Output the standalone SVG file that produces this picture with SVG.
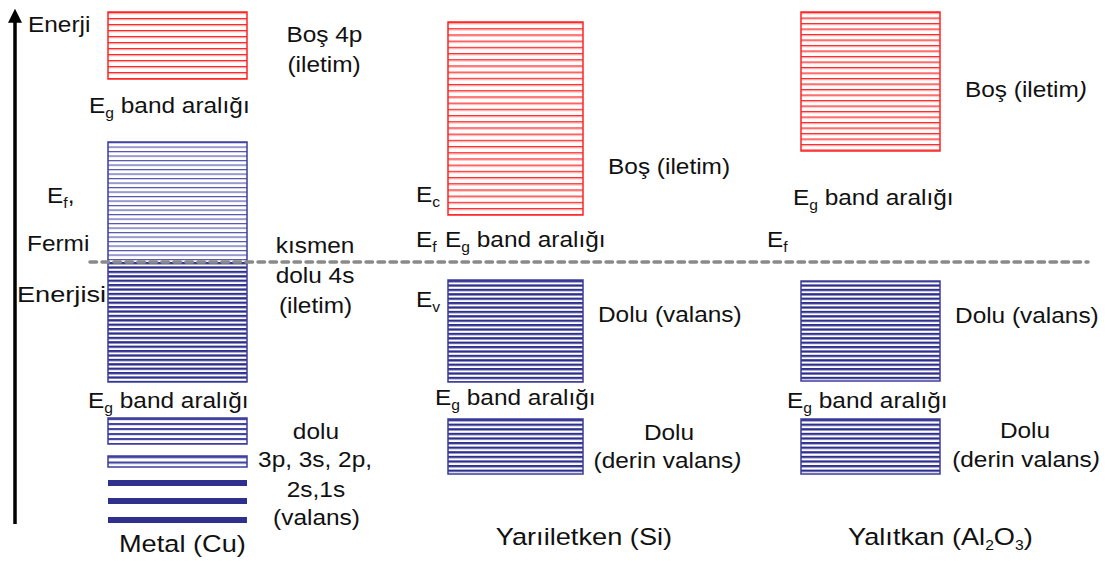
<svg xmlns="http://www.w3.org/2000/svg" width="1113" height="561" viewBox="0 0 1113 561">
  <defs>
    <style>
      .lbl { font-family: "Liberation Sans", Arial, sans-serif; font-size: 21.8px; fill: #111; }
      .big { font-size: 24.3px; }
      .mid { text-anchor: middle; }
      .sub { font-size: 14px; }
      .redBox { stroke: #ff2424; stroke-width: 1.5; }
      .blueBox { stroke: #3c3c9c; stroke-width: 1.5; }
      .bar { fill: #2f2f8e; }
    </style>
    <!-- stripe fills for the energy bands -->
    <pattern id="redStripe6" width="20" height="6" patternUnits="userSpaceOnUse" patternTransform="translate(0 12)">
      <rect width="20" height="6" fill="#fff"/>
      <rect width="20" height="1.3" fill="#ff2a2a"/>
      <rect y="1.3" width="20" height="0.9" fill="#ff9a9a"/>
    </pattern>
    <pattern id="redStripeSi" width="20" height="6.2" patternUnits="userSpaceOnUse" patternTransform="translate(0 22)">
      <rect width="20" height="6.2" fill="#fff"/>
      <rect width="20" height="1.3" fill="#ff2a2a"/>
      <rect y="1.3" width="20" height="0.9" fill="#ff9a9a"/>
    </pattern>
    <pattern id="redStripeAl" width="20" height="5.5" patternUnits="userSpaceOnUse" patternTransform="translate(0 12)">
      <rect width="20" height="5.5" fill="#fff"/>
      <rect width="20" height="1.3" fill="#ff2a2a"/>
      <rect y="1.3" width="20" height="0.8" fill="#ff9a9a"/>
    </pattern>
    <pattern id="blueThin" width="20" height="4.5" patternUnits="userSpaceOnUse" patternTransform="translate(0 142)">
      <rect width="20" height="4.5" fill="#fff"/>
      <rect width="20" height="1.2" fill="#5454ae"/>
    </pattern>
    <pattern id="blueThick" width="20" height="4.4" patternUnits="userSpaceOnUse" patternTransform="translate(0 262)">
      <rect width="20" height="4.4" fill="#fff"/>
      <rect width="20" height="2.3" fill="#2f2f8e"/>
    </pattern>
    <pattern id="blueThickSi" width="20" height="4.4" patternUnits="userSpaceOnUse" patternTransform="translate(0 280)">
      <rect width="20" height="4.4" fill="#fff"/>
      <rect width="20" height="2.3" fill="#2f2f8e"/>
    </pattern>
    <pattern id="blueDeep" width="20" height="4.6" patternUnits="userSpaceOnUse" patternTransform="translate(0 419)">
      <rect width="20" height="4.6" fill="#fff"/>
      <rect width="20" height="2.3" fill="#2f2f8e"/>
    </pattern>
    <pattern id="blueCore" width="20" height="5" patternUnits="userSpaceOnUse" patternTransform="translate(0 418)">
      <rect width="20" height="5" fill="#fff"/>
      <rect width="20" height="2.2" fill="#4646a4"/>
    </pattern>
    <pattern id="blueCore2" width="20" height="5.5" patternUnits="userSpaceOnUse" patternTransform="translate(0 456)">
      <rect width="20" height="5.5" fill="#fff"/>
      <rect width="20" height="2.2" fill="#4646a4"/>
    </pattern>
    <marker id="arrowHead" viewBox="0 0 10 10" refX="2" refY="5" markerWidth="4" markerHeight="4.2" orient="auto" markerUnits="strokeWidth">
      <path d="M0,0 L10,5 L0,10 Z" fill="#000"/>
    </marker>
  </defs>

  <rect width="1113" height="561" fill="#fff"/>

  <!-- Metal (Cu) bands -->
  <g id="metal-4p">
    <rect class="redBox" x="108" y="12" width="139" height="67" fill="url(#redStripe6)"/>
  </g>
  <g id="metal-4s">
    <rect x="108" y="142" width="139" height="120" fill="url(#blueThin)"/>
    <rect x="108" y="262" width="139" height="120" fill="url(#blueThick)"/>
    <rect class="blueBox" x="108" y="142" width="139" height="240" fill="none"/>
  </g>
  <g id="metal-core">
    <rect class="blueBox" x="108" y="418" width="139" height="26" fill="url(#blueCore)"/>
    <rect class="blueBox" x="108" y="456" width="139" height="11" fill="url(#blueCore2)"/>
    <rect class="bar" x="108" y="480" width="139" height="6"/>
    <rect class="bar" x="108" y="498" width="139" height="6"/>
    <rect class="bar" x="108" y="517" width="139" height="6"/>
  </g>

  <!-- Semiconductor (Si) bands -->
  <g id="si-conduction">
    <rect class="redBox" x="448" y="22" width="135" height="193" fill="url(#redStripeSi)"/>
  </g>
  <g id="si-valence">
    <rect class="blueBox" x="448" y="280" width="135" height="102" fill="url(#blueThickSi)"/>
  </g>
  <g id="si-deep">
    <rect class="blueBox" x="448" y="419" width="135" height="55" fill="url(#blueDeep)"/>
  </g>

  <!-- Insulator (Al2O3) bands -->
  <g id="al-conduction">
    <rect class="redBox" x="801" y="12" width="139" height="139" fill="url(#redStripeAl)"/>
  </g>
  <g id="al-valence">
    <rect class="blueBox" x="801" y="281" width="139" height="100" fill="url(#blueThickSi)"/>
  </g>
  <g id="al-deep">
    <rect class="blueBox" x="801" y="419" width="139" height="55" fill="url(#blueDeep)"/>
  </g>

  <!-- energy axis and Fermi level -->
  <g id="connectors">
    <line x1="15" y1="524" x2="15" y2="20" stroke="#000" stroke-width="3.5" marker-end="url(#arrowHead)"/>
    <line x1="90" y1="262" x2="1088" y2="262" stroke="#8a8a8a" stroke-width="3.5" stroke-linecap="round" stroke-dasharray="6.5 5.5"/>
  </g>

  <!-- labels (glyphs widened horizontally) -->
  <g id="labels" class="lbl" transform="scale(1.12 1)">
    <text x="25" y="32">Enerji</text>
    <text class="mid" x="289.7" y="42">Boş 4p</text>
    <text class="mid" x="289.3" y="72">(iletim)</text>
    <text x="79.5" y="113">E<tspan class="sub" dy="5">g</tspan><tspan dy="-5"> band aralığı</tspan></text>
    <text x="42" y="203">E<tspan class="sub" dy="5">f</tspan><tspan dy="-5">,</tspan></text>
    <text x="24.1" y="251">Fermi</text>
    <text class="mid" x="281.3" y="253">kısmen</text>
    <text class="mid" x="281.3" y="283">dolu 4s</text>
    <text class="mid" x="281.7" y="313">(iletim)</text>
    <text x="15.2" y="302" textLength="79.5" lengthAdjust="spacingAndGlyphs">Enerjisi</text>
    <text x="78.6" y="408">E<tspan class="sub" dy="5">g</tspan><tspan dy="-5"> band aralığı</tspan></text>
    <text class="mid" x="282.1" y="439">dolu</text>
    <text class="mid" x="281.3" y="467">3p, 3s, 2p,</text>
    <text class="mid" x="282.1" y="497">2s,1s</text>
    <text class="mid" x="282.6" y="525">(valans)</text>
    <text class="mid big" x="162.9" y="552">Metal (Cu)</text>

    <text x="371.4" y="202">E<tspan class="sub" dy="5">c</tspan></text>
    <text x="542.9" y="174">Boş (iletim)</text>
    <text x="371.4" y="247">E<tspan class="sub" dy="5">f</tspan></text>
    <text x="397.3" y="247">E<tspan class="sub" dy="5">g</tspan><tspan dy="-5"> band aralığı</tspan></text>
    <text x="371.4" y="307">E<tspan class="sub" dy="5">v</tspan></text>
    <text x="533.9" y="322">Dolu (valans)</text>
    <text x="388.4" y="405">E<tspan class="sub" dy="5">g</tspan><tspan dy="-5"> band aralığı</tspan></text>
    <text class="mid" x="597.3" y="440">Dolu</text>
    <text class="mid" x="596" y="468">(derin valans<tspan font-style="italic">)</tspan></text>
    <text class="mid big" x="521.4" y="545">Yarıiletken (Si)</text>

    <text x="861.6" y="97">Boş (iletim<tspan font-style="italic">)</tspan></text>
    <text x="708" y="205">E<tspan class="sub" dy="5">g</tspan><tspan dy="-5"> band aralığı</tspan></text>
    <text x="684.8" y="247">E<tspan class="sub" dy="5">f</tspan></text>
    <text x="852.7" y="323">Dolu (valans)</text>
    <text x="702.7" y="408">E<tspan class="sub" dy="5">g</tspan><tspan dy="-5"> band aralığı</tspan></text>
    <text class="mid" x="915.2" y="438">Dolu</text>
    <text class="mid" x="916.1" y="467">(derin valans<tspan font-style="italic">)</tspan></text>
    <text class="mid big" x="839.7" y="545">Yalıtkan (Al<tspan class="sub" dy="5">2</tspan><tspan dy="-5">O</tspan><tspan class="sub" dy="5">3</tspan><tspan dy="-5">)</tspan></text>
  </g>
</svg>
